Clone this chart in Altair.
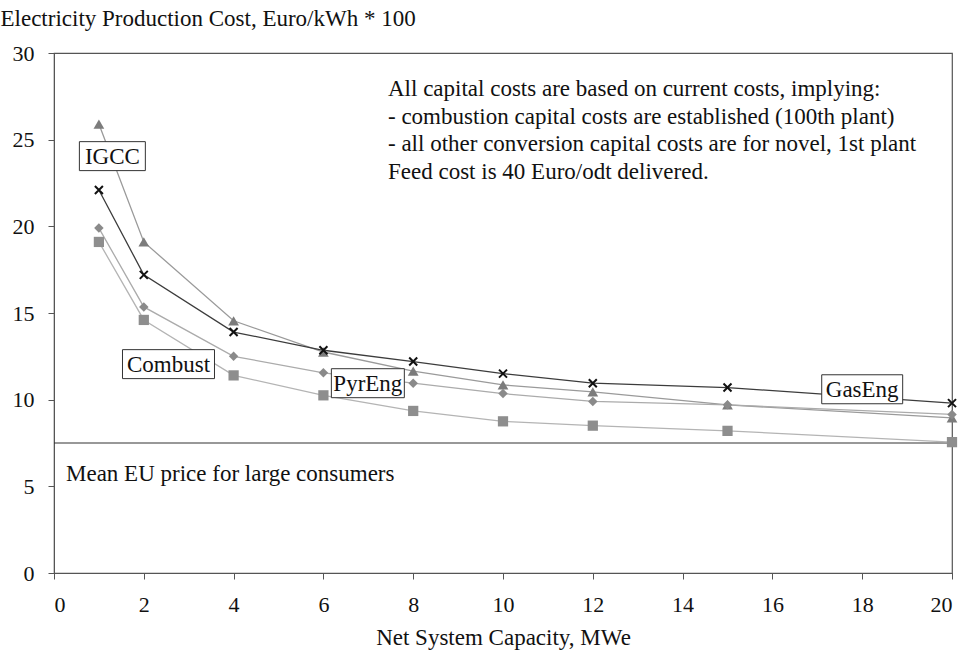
import altair as alt
import pandas as pd

# Net system capacity (MWe) and production cost (Euro/kWh * 100) per technology
capacity = [1, 2, 4, 6, 8, 10, 12, 15, 20]
igcc = [25.9, 19.1, 14.55, 12.75, 11.65, 10.85, 10.45, 9.7, 8.95]
gaseng = [22.1, 17.2, 13.9, 12.85, 12.2, 11.5, 10.95, 10.7, 9.8]
pyreng = [19.9, 15.35, 12.5, 11.55, 10.95, 10.35, 9.9, 9.7, 9.15]
combust = [19.1, 14.6, 11.4, 10.25, 9.35, 8.75, 8.5, 8.2, 7.55]

series_names = ["IGCC", "GasEng", "PyrEng", "Combust"]
mean_eu_price = 7.5

# Series name tags placed beside the curves
label_names = ["IGCC", "Combust", "PyrEng", "GasEng"]
label_x = [1.30, 2.55, 6.99, 18.0]
label_y = [24.05, 12.05, 10.95, 10.6]

note_lines = [
    "All capital costs are based on current costs, implying:",
    "- combustion capital costs are established (100th plant)",
    "- all other conversion capital costs are for novel, 1st plant",
    "Feed cost is 40 Euro/odt delivered.",
]

FONT = "Liberation Serif"
FS = 23
W, H = 898, 520

rows = []
for name, vals in zip(series_names, [igcc, gaseng, pyreng, combust]):
    for c, v in zip(capacity, vals):
        rows.append({"series": name, "capacity": c, "cost": v})
df = pd.DataFrame(rows)

x_enc = alt.X(
    "capacity:Q",
    scale=alt.Scale(domain=[0, 20], nice=False, zero=True),
    axis=alt.Axis(
        values=list(range(0, 21, 2)),
        title="Net System Capacity, MWe",
        titleFont=FONT,
        titleFontSize=FS,
        titleFontWeight="normal",
        titlePadding=11,
        labelPadding=15,
        tickSize=6,
    ),
)
y_enc = alt.Y(
    "cost:Q",
    scale=alt.Scale(domain=[0, 30], nice=False),
    axis=alt.Axis(
        values=list(range(0, 31, 5)),
        title="Electricity Production Cost, Euro/kWh * 100",
        titleAngle=0,
        titleX=-54,
        titleY=-35,
        titleAlign="left",
        titleBaseline="middle",
        titleFont=FONT,
        titleFontSize=FS,
        titleFontWeight="normal",
        labelPadding=14,
        tickSize=6,
    ),
)

line_colors = ["#9a9a9a", "#3c3c3c", "#ababab", "#b4b4b4"]
lines = (
    alt.Chart(df)
    .mark_line(strokeWidth=1.3)
    .encode(
        x=x_enc,
        y=y_enc,
        color=alt.Color(
            "series:N",
            scale=alt.Scale(domain=series_names, range=line_colors),
            legend=None,
        ),
        detail="series:N",
    )
)

# Filled markers: one layer per series so each keeps its own shape and size
marker_specs = [
    ("IGCC", "triangle-up", "#7c7c7c", 115),
    ("PyrEng", "diamond", "#8a8a8a", 90),
    ("Combust", "square", "#8e8e8e", 105),
]
point_layers = []
for name, shape, fill, size in marker_specs:
    point_layers.append(
        alt.Chart(df[df["series"] == name])
        .mark_point(shape=shape, filled=True, fill=fill, size=size, opacity=1, strokeWidth=0)
        .encode(x="capacity:Q", y="cost:Q")
    )

crosses = (
    alt.Chart(df[df["series"] == "GasEng"])
    .mark_point(
        shape="M-1,-1L1,1M-1,1L1,-1",
        size=64,
        stroke="#111111",
        strokeWidth=2,
        filled=False,
        opacity=1,
    )
    .encode(x="capacity:Q", y="cost:Q")
)

price_df = pd.DataFrame({"cost": [mean_eu_price]})
price_rule = (
    alt.Chart(price_df)
    .mark_rule(color="#333333", strokeWidth=1.2)
    .encode(y="cost:Q")
)
price_text = (
    alt.Chart(pd.DataFrame({"t": ["Mean EU price for large consumers"]}))
    .mark_text(align="left", baseline="middle", font=FONT, fontSize=FS, color="#111111")
    .encode(x=alt.value(12), y=alt.value(421), text="t:N")
)

note = (
    alt.Chart(pd.DataFrame({"k": [0]}))
    .mark_text(
        text=note_lines,
        align="left",
        baseline="middle",
        lineHeight=27.7,
        font=FONT,
        fontSize=FS,
        color="#111111",
    )
    .encode(x=alt.value(334), y=alt.value(36))
)

# Boxed series tags: rectangles drawn as custom symbol paths (unit = 46 px)
box_w = [66, 92, 73, 81]
box_h = 29
half = 46.0
labels_df = pd.DataFrame({"label": label_names, "capacity": label_x, "cost": label_y})
box_layers = []
for i, bw in enumerate(box_w):
    a = bw / 2 / half
    b = box_h / 2 / half
    path = f"M{-a:.3f},{-b:.3f}H{a:.3f}V{b:.3f}H{-a:.3f}Z"
    box_layers.append(
        alt.Chart(labels_df.iloc[[i]])
        .mark_point(
            shape=path,
            size=(2 * half) ** 2,
            filled=True,
            fill="white",
            stroke="#333333",
            strokeWidth=1,
            opacity=1,
        )
        .encode(x="capacity:Q", y="cost:Q")
    )
label_text = (
    alt.Chart(labels_df)
    .mark_text(font=FONT, fontSize=FS, color="#111111", baseline="middle", dy=1)
    .encode(x="capacity:Q", y="cost:Q", text="label:N")
)

chart = (
    alt.layer(price_rule, lines, *point_layers, crosses, price_text, note, *box_layers, label_text)
    .properties(
        width=W,
        height=H,
        autosize=alt.AutoSizeParams(type="none"),
        padding={"left": 54, "top": 53, "right": 12, "bottom": 81},
    )
    .configure_view(stroke="#555555", strokeWidth=1.2)
    .configure_axis(
        grid=False,
        domainColor="#555555",
        tickColor="#555555",
        labelFont=FONT,
        labelFontSize=22,
        labelColor="#111111",
        titleColor="#111111",
    )
)

chart.save("out.html", embed_options={"renderer": "svg", "actions": False})
